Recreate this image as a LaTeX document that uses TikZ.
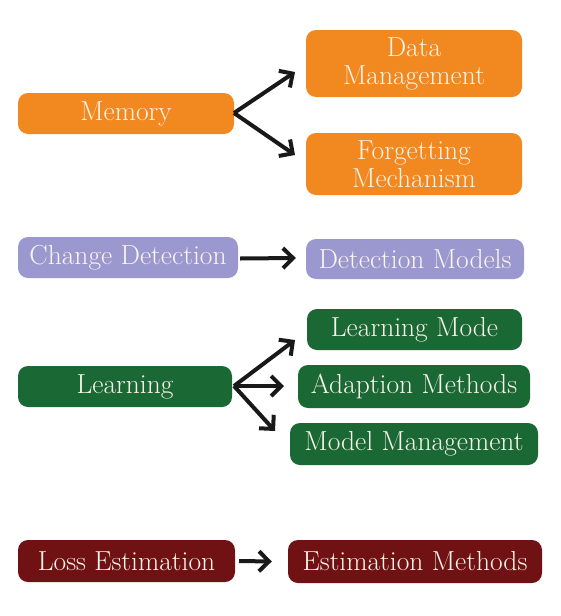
\documentclass[tikz,border=0pt]{standalone}
\usetikzlibrary{arrows.meta,calc}
\definecolor{orng}{RGB}{242,136,32}
\definecolor{lav}{RGB}{155,152,208}
\definecolor{grn}{RGB}{26,104,52}
\definecolor{mar}{RGB}{112,18,20}
\definecolor{txt}{RGB}{250,245,235}
\tikzset{
  box/.style={rounded corners=10pt, inner sep=0pt, align=center, text=txt,
    font=\fontsize{27.5}{28}\selectfont},
  arr/.style={line width=4pt, -{Straight Barb[length=10pt,width=20pt,line width=4pt]}, black!90}
}
\begin{document}
\begin{tikzpicture}[x=1pt,y=-1pt]
\useasboundingbox[fill=white] (0,0) rectangle (560,616);
% Memory
\node[box, fill=orng, minimum width=216pt, minimum height=41pt] (mem) at (126,113.5) {Memory};
\node[box, fill=orng, minimum width=216pt, minimum height=67pt] (dm) at (414,63.5) {Data\\Management};
\node[box, fill=orng, minimum width=216pt, minimum height=62pt] (fm) at (414,164) {Forgetting\\Mechanism};
\coordinate (m0) at (234,113);
\draw[arr] (m0) -- (295,72);
\draw[arr] (m0) -- (295,155);
% Change detection
\node[box, fill=lav, minimum width=220pt, minimum height=41pt] (cd) at (128,257.5) {Change Detection};
\node[box, fill=lav, minimum width=218pt, minimum height=40pt] (dmod) at (415,259) {Detection Models};
\draw[arr] ($(cd.east)+(2,1)$) -- ($(dmod.west)+(-10,-1)$);
% Learning
\node[box, fill=grn, minimum width=214pt, minimum height=41pt] (lrn) at (125,386.5) {Learning};
\node[box, fill=grn, minimum width=215pt, minimum height=41pt] (lm) at (414.5,329.5) {Learning Mode};
\node[box, fill=grn, minimum width=232pt, minimum height=43pt] (am) at (414,386.5) {Adaption Methods};
\node[box, fill=grn, minimum width=248pt, minimum height=42pt] (mm) at (414,444) {Model Management};
\coordinate (l0) at (234,386);
\draw[arr] (l0) -- (295,340);
\draw[arr] (l0) -- (284,386);
\draw[arr] (l0) -- (275,431);
% Loss
\node[box, fill=mar, minimum width=217pt, minimum height=42pt] (le) at (126.5,561) {Loss Estimation};
\node[box, fill=mar, minimum width=254pt, minimum height=43pt] (em) at (415,561.5) {Estimation Methods};
\draw[arr] ($(le.east)+(4,0)$) -- ($(em.west)+(-16,0)$);
\end{tikzpicture}
\end{document}
